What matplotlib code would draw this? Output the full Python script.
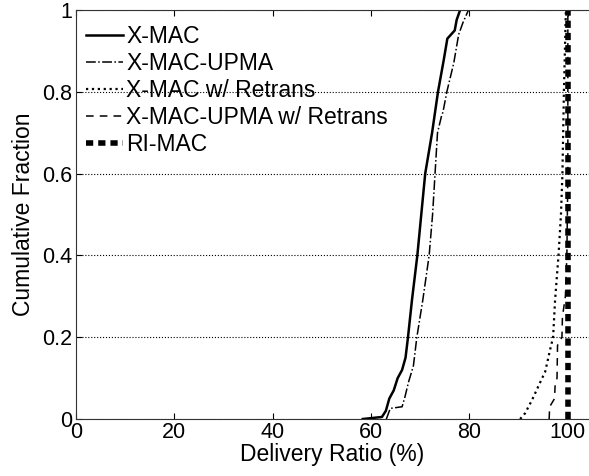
import numpy as np
import matplotlib
matplotlib.use("Agg")
import matplotlib.pyplot as plt

plt.rcParams['font.family'] = ['Liberation Sans', 'DejaVu Sans']

# CDF curves: delivery ratio (%) vs cumulative fraction
xmac_x = [58.3, 62.2, 63.0, 63.7, 64.6, 65.4, 66.3, 67.0, 67.5, 68.3, 68.8, 69.4,
          70.2, 71.0, 72.4, 73.0, 73.6, 74.8, 75.5, 77.0, 77.4, 78.1]
xmac_y = [0.0, 0.005, 0.02, 0.05, 0.07, 0.10, 0.12, 0.15, 0.20, 0.29, 0.34, 0.40,
          0.50, 0.60, 0.70, 0.75, 0.80, 0.88, 0.93, 0.95, 0.976, 1.0]

upma_x = [63.1, 63.9, 66.3, 66.9, 67.6, 68.6, 69.3, 70.5, 71.8, 72.5, 73.0, 73.5,
          74.3, 74.6, 75.4, 76.0, 76.8, 77.8, 78.7, 79.8]
upma_y = [0.0, 0.026, 0.03, 0.055, 0.09, 0.13, 0.20, 0.29, 0.40, 0.50, 0.60, 0.70,
          0.74, 0.75, 0.80, 0.83, 0.87, 0.94, 0.97, 1.0]

xret_x = [90.3, 91.3, 92.7, 94.0, 95.4, 96.4, 97.0, 97.4, 98.1, 98.6, 98.9, 99.2, 99.4, 99.6]
xret_y = [0.0, 0.014, 0.046, 0.08, 0.116, 0.17, 0.20, 0.29, 0.40, 0.50, 0.60, 0.80, 0.90, 1.0]

uret_x = [96.2, 96.3, 97.3, 97.4, 97.8, 97.9, 98.8, 98.9, 99.5, 99.8, 100.0, 100.0]
uret_y = [0.0, 0.03, 0.05, 0.08, 0.10, 0.18, 0.20, 0.25, 0.30, 0.40, 0.60, 1.0]

rimac_x = [100.0, 100.0]
rimac_y = [0.0, 1.0]

labels = ['X-MAC', 'X-MAC-UPMA', 'X-MAC w/ Retrans', 'X-MAC-UPMA w/ Retrans', 'RI-MAC']

fs = 16.5
tfs = 15.5

fig = plt.figure(figsize=(5.89, 4.76), dpi=100)
ax = fig.add_axes([0.129, 0.1197, 0.871, 0.8593])

ax.plot(xmac_x, xmac_y, color='black', lw=1.8, ls='-', label=labels[0])
ax.plot(upma_x, upma_y, color='black', lw=1.1, ls='-.', label=labels[1])
ax.plot(xret_x, xret_y, color='black', lw=1.6, ls=':', label=labels[2])
ax.plot(uret_x, uret_y, color='black', lw=1.1, ls=(0, (5, 4)), label=labels[3])
ax.plot(rimac_x, rimac_y, color='black', lw=4.0, ls=(0, (1.3, 0.9)), label=labels[4])

ax.set_xlim(0, 104.3)
ax.set_ylim(0, 1)
ax.set_xticks([0, 20, 40, 60, 80, 100])
ax.set_yticks([0, 0.2, 0.4, 0.6, 0.8, 1])
ax.set_yticklabels(['0', '0.2', '0.4', '0.6', '0.8', '1'])
ax.tick_params(direction='in', top=True, right=False, labelsize=tfs, length=4)
ax.tick_params(axis='x', pad=2.5)
ax.tick_params(axis='y', pad=3)
ax.yaxis.grid(True, ls=':', color='black', lw=0.8)
for s in ['left', 'bottom', 'top']:
    ax.spines[s].set_color('#333333')
ax.spines['right'].set_visible(False)

ax.set_xlabel('Delivery Ratio (%)', fontsize=fs, labelpad=0)
ax.set_ylabel('Cumulative Fraction', fontsize=fs)
ax.yaxis.set_label_coords(-0.079, 0.5)

leg = ax.legend(loc='upper left', bbox_to_anchor=(-0.01, 1.0), frameon=False, fontsize=fs,
                handlelength=1.6, handletextpad=0.15, labelspacing=0.17,
                borderaxespad=0.25, borderpad=0.42)

fig.savefig('out.png', dpi=100)
